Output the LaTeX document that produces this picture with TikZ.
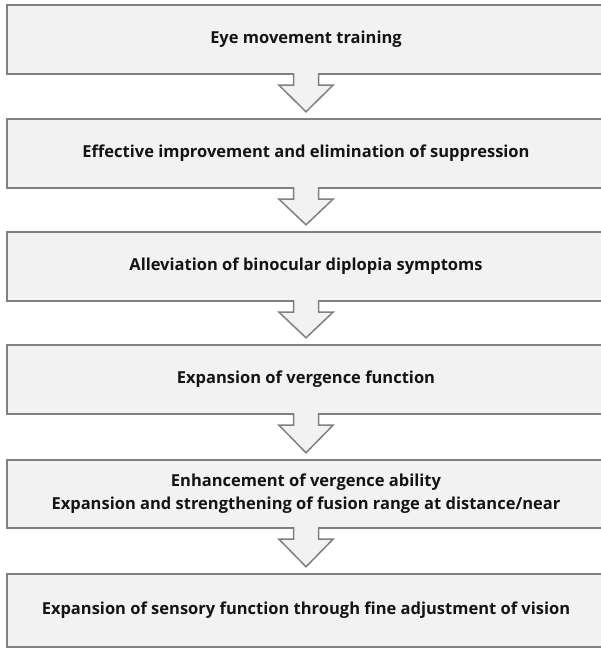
\documentclass[tikz,border=0pt]{standalone}
\usepackage{fontspec}
\setmainfont{Open Sans}
\usepackage{tikz}
\definecolor{boxfill}{RGB}{242, 242, 242}
\definecolor{boxline}{RGB}{128, 128, 128}
\definecolor{textdark}{RGB}{20, 20, 20}

\tikzset{
  stagebox/.style={fill=boxfill, minimum width=598pt, align=center, text=textdark,
    font=\bfseries\fontsize{16.5}{23}\selectfont},
  stageline/.style={draw=boxline, line width=1.5pt, line join=miter},
  blockarrow/.style={draw=boxline, fill=boxfill, line width=1.5pt, line join=miter}
}

\begin{document}
\begin{tikzpicture}[x=1pt, y=-1pt]

  \useasboundingbox (0, 0) rectangle (601, 650);
  \clip (0, 0) rectangle (601, 650);
  \fill[white] (0, 0) rectangle (601, 650);

  \node[stagebox, minimum height=69pt] (train)  at (306, 39.5)  {Eye movement training};
  \node[stagebox, minimum height=69pt] (suppr)  at (306, 153.5) {Effective improvement and elimination of suppression};
  \node[stagebox, minimum height=69pt] (diplo)  at (306, 266.5) {Alleviation of binocular diplopia symptoms};
  \node[stagebox, minimum height=69pt] (verg)   at (306, 379.5) {Expansion of vergence function};
  \node[stagebox, minimum height=68pt] (fusion) at (306, 494)   {Enhancement of vergence ability\\Expansion and strengthening of fusion range at distance/near};
  \node[stagebox, minimum height=73pt] (sense)  at (306, 610.5) {Expansion of sensory function through fine adjustment of vision};

  % outlines run off the right edge of the page
  \foreach \n in {train, suppr, diplo, verg, fusion, sense} {
    \draw[stageline] ([xshift=10pt]\n.north east) -- (\n.north west) -- (\n.south west) -- ([xshift=10pt]\n.south east);
  }

  % hollow block arrows between the stages
  \foreach \a/\b in {train/suppr, suppr/diplo, diplo/verg, verg/fusion, fusion/sense} {
    \draw[blockarrow]
      ([xshift=-12.5pt, yshift=1pt]\a.south) -- ([xshift=-12.5pt, yshift=-11pt]\a.south)
      -- ([xshift=-27pt, yshift=-11pt]\a.south) -- ([yshift=7pt]\b.north)
      -- ([xshift=27pt, yshift=-11pt]\a.south) -- ([xshift=12.5pt, yshift=-11pt]\a.south)
      -- ([xshift=12.5pt, yshift=1pt]\a.south);
  }

\end{tikzpicture}
\end{document}
